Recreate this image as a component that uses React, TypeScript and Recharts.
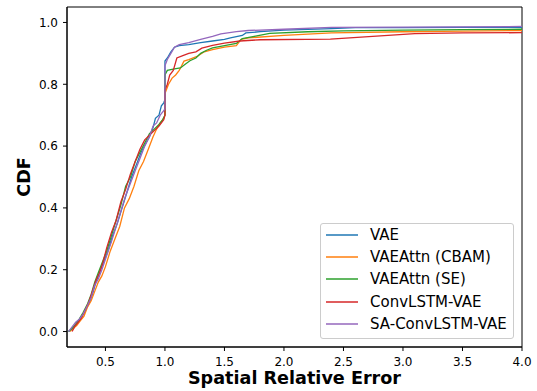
import React from 'react';
import { LineChart, Line, XAxis, YAxis, Legend, ReferenceArea, Label } from 'recharts';

const FONT = '"DejaVu Sans", "Liberation Sans", sans-serif';

const X_TICKS = [0.5, 1.0, 1.5, 2.0, 2.5, 3.0, 3.5, 4.0];
const Y_TICKS = [0, 0.2, 0.4, 0.6, 0.8, 1.0];
const X_MIN = 0.177;
const X_MAX = 4.0;
const Y_MIN = -0.05;
const Y_MAX = 1.05;

const SERIES_NAMES = ['VAE', 'VAEAttn (CBAM)', 'VAEAttn (SE)', 'ConvLSTM-VAE', 'SA-ConvLSTM-VAE'];
const SERIES_COLORS = ['#1f77b4', '#ff7f0e', '#2ca02c', '#d62728', '#9467bd'];

const vae: [number, number][] = [
  [0.19, 0], [0.22, 0.01], [0.25, 0.02], [0.28, 0.035], [0.32, 0.06], [0.36, 0.09], [0.39, 0.12],
  [0.42, 0.16], [0.45, 0.19], [0.48, 0.22], [0.52, 0.26], [0.56, 0.31], [0.6, 0.35], [0.64, 0.4],
  [0.68, 0.45], [0.72, 0.5], [0.76, 0.54], [0.8, 0.58], [0.84, 0.61], [0.87, 0.63], [0.9, 0.66],
  [0.92, 0.69], [0.95, 0.7], [0.97, 0.73], [0.99, 0.74], [1.0, 0.75], [1.0, 0.875], [1.02, 0.885],
  [1.05, 0.905], [1.08, 0.92], [1.12, 0.925], [1.2, 0.928], [1.3, 0.935], [1.4, 0.94], [1.5, 0.945],
  [1.55, 0.95], [1.65, 0.958], [1.68, 0.966], [1.8, 0.97], [2.0, 0.975], [2.4, 0.98], [2.6, 0.983],
  [3.0, 0.983], [3.5, 0.984], [4.0, 0.984],
];

const cbam: [number, number][] = [
  [0.2, 0], [0.23, 0.01], [0.26, 0.02], [0.29, 0.035], [0.32, 0.05], [0.35, 0.08], [0.38, 0.1],
  [0.41, 0.13], [0.44, 0.16], [0.47, 0.18], [0.5, 0.21], [0.54, 0.26], [0.58, 0.3], [0.62, 0.34],
  [0.66, 0.4], [0.7, 0.43], [0.74, 0.47], [0.78, 0.52], [0.82, 0.55], [0.86, 0.59], [0.9, 0.63],
  [0.93, 0.655], [0.96, 0.675], [0.99, 0.69], [1.0, 0.7], [1.0, 0.77], [1.03, 0.8], [1.06, 0.82],
  [1.09, 0.83], [1.12, 0.845], [1.14, 0.86], [1.16, 0.875], [1.2, 0.88], [1.27, 0.89], [1.33, 0.905],
  [1.4, 0.912], [1.5, 0.92], [1.6, 0.925], [1.64, 0.945], [1.7, 0.95], [2.0, 0.958], [2.4, 0.966],
  [3.0, 0.97], [3.5, 0.972], [4.0, 0.974],
];

const se: [number, number][] = [
  [0.19, 0], [0.22, 0.01], [0.25, 0.025], [0.28, 0.04], [0.31, 0.06], [0.35, 0.09], [0.38, 0.12],
  [0.41, 0.16], [0.44, 0.19], [0.47, 0.22], [0.51, 0.26], [0.55, 0.31], [0.59, 0.36], [0.63, 0.41],
  [0.67, 0.47], [0.71, 0.5], [0.75, 0.55], [0.79, 0.58], [0.83, 0.61], [0.87, 0.64], [0.91, 0.655],
  [0.95, 0.67], [0.98, 0.685], [1.0, 0.7], [1.0, 0.83], [1.02, 0.845], [1.08, 0.85], [1.13, 0.853],
  [1.17, 0.865], [1.21, 0.876], [1.26, 0.885], [1.3, 0.9], [1.35, 0.91], [1.4, 0.918], [1.5, 0.925],
  [1.6, 0.932], [1.65, 0.948], [1.75, 0.955], [1.88, 0.965], [2.2, 0.97], [2.5, 0.973], [3.0, 0.975],
  [3.5, 0.977], [4.0, 0.978],
];

const convlstm: [number, number][] = [
  [0.22, 0], [0.24, 0.015], [0.27, 0.03], [0.3, 0.045], [0.33, 0.07], [0.36, 0.095], [0.39, 0.13],
  [0.42, 0.165], [0.45, 0.19], [0.48, 0.225], [0.51, 0.27], [0.55, 0.32], [0.59, 0.36], [0.63, 0.42],
  [0.67, 0.46], [0.71, 0.51], [0.75, 0.55], [0.79, 0.59], [0.83, 0.62], [0.87, 0.635], [0.91, 0.65],
  [0.95, 0.665], [0.99, 0.685], [1.0, 0.7], [1.0, 0.78], [1.02, 0.8], [1.04, 0.83], [1.07, 0.845],
  [1.1, 0.885], [1.15, 0.893], [1.2, 0.9], [1.26, 0.905], [1.31, 0.917], [1.4, 0.926], [1.5, 0.933],
  [1.63, 0.94], [1.8, 0.944], [2.39, 0.946], [3.1, 0.964], [3.5, 0.966], [4.0, 0.967],
];

const saconvlstm: [number, number][] = [
  [0.19, 0], [0.22, 0.015], [0.25, 0.03], [0.28, 0.04], [0.31, 0.055], [0.35, 0.085], [0.38, 0.11],
  [0.41, 0.15], [0.44, 0.17], [0.47, 0.2], [0.51, 0.245], [0.55, 0.29], [0.59, 0.34], [0.63, 0.39],
  [0.67, 0.44], [0.71, 0.48], [0.75, 0.52], [0.79, 0.56], [0.83, 0.6], [0.87, 0.63], [0.9, 0.665],
  [0.93, 0.675], [0.96, 0.7], [0.99, 0.715], [1.0, 0.72], [1.0, 0.86], [1.02, 0.88], [1.05, 0.9],
  [1.08, 0.92], [1.12, 0.928], [1.2, 0.935], [1.3, 0.945], [1.4, 0.955], [1.47, 0.963], [1.6, 0.97],
  [1.7, 0.974], [2.0, 0.978], [2.4, 0.984], [3.0, 0.985], [4.0, 0.987],
];

const SERIES = [vae, cbam, se, convlstm, saconvlstm];

const toPoints = (pairs: [number, number][]) => pairs.map(([x, y]) => ({ x, y }));

const renderLegend = () => (
  <div
    style={{
      boxSizing: 'border-box',
      width: 194,
      height: 116,
      border: '1px solid #cccccc',
      borderRadius: 3,
      background: 'rgba(255,255,255,0.8)',
      fontFamily: FONT,
      fontSize: 15,
      color: '#000',
      paddingLeft: 5,
      paddingTop: 0,
    }}
  >
    {SERIES_NAMES.map((name, i) => (
      <div key={name} style={{ height: 22.2, display: 'flex', alignItems: 'center' }}>
        <svg width={32} height={4} style={{ marginRight: 12, display: 'block', flex: 'none' }}>
          <line x1={0} y1={2} x2={32} y2={2} stroke={SERIES_COLORS[i]} strokeWidth={1.5} />
        </svg>
        <span style={{ whiteSpace: 'nowrap', lineHeight: '22px' }}>{name}</span>
      </div>
    ))}
  </div>
);

export default function App() {
  return (
    <div style={{ position: 'absolute', left: 0, top: 0, background: '#fff' }}>
      <LineChart width={537} height={391} margin={{ top: 7, right: 15, bottom: 0, left: 0 }}>
        <XAxis
          dataKey="x"
          type="number"
          domain={[X_MIN, X_MAX]}
          allowDataOverflow
          ticks={X_TICKS}
          tickFormatter={(v: number) => v.toFixed(1)}
          height={44}
          tickSize={4}
          tickMargin={6}
          stroke="#000"
          tick={{ fill: '#000', fontSize: 12, fontFamily: FONT }}
          tickLine={{ stroke: '#000' }}
          axisLine={{ stroke: '#000' }}
        >
          <Label
            content={() => (
              <text
                x={294.5}
                y={384}
                textAnchor="middle"
                fontFamily={FONT}
                fontSize={17.6}
                fontWeight="bold"
                fill="#000"
              >
                Spatial Relative Error
              </text>
            )}
          />
        </XAxis>
        <YAxis
          type="number"
          domain={[Y_MIN, Y_MAX]}
          allowDataOverflow
          ticks={Y_TICKS}
          tickFormatter={(v: number) => v.toFixed(1)}
          width={67}
          tickSize={4}
          tickMargin={5}
          stroke="#000"
          tick={{ fill: '#000', fontSize: 12, fontFamily: FONT }}
          tickLine={{ stroke: '#000' }}
          axisLine={{ stroke: '#000' }}
        >
          <Label
            content={() => (
              <text
                x={29.5}
                y={177}
                transform="rotate(-90, 29.5, 177)"
                textAnchor="middle"
                fontFamily={FONT}
                fontSize={17.6}
                fontWeight="bold"
                fill="#000"
              >
                CDF
              </text>
            )}
          />
        </YAxis>
        <ReferenceArea
          x1={X_MIN}
          x2={X_MAX}
          y1={Y_MIN}
          y2={Y_MAX}
          fill="none"
          stroke="#000"
          strokeWidth={1}
          ifOverflow="visible"
        />
        {SERIES.map((s, i) => (
          <Line
            key={SERIES_NAMES[i]}
            name={SERIES_NAMES[i]}
            data={toPoints(s)}
            dataKey="y"
            type="linear"
            stroke={SERIES_COLORS[i]}
            strokeWidth={1.3}
            dot={false}
            activeDot={false}
            isAnimationActive={false}
          />
        ))}
        <Legend
          layout="vertical"
          align="center"
          verticalAlign="middle"
          content={renderLegend}
          wrapperStyle={{ position: 'absolute', left: 320, top: 223, width: 194, height: 116 }}
        />
      </LineChart>
    </div>
  );
}
